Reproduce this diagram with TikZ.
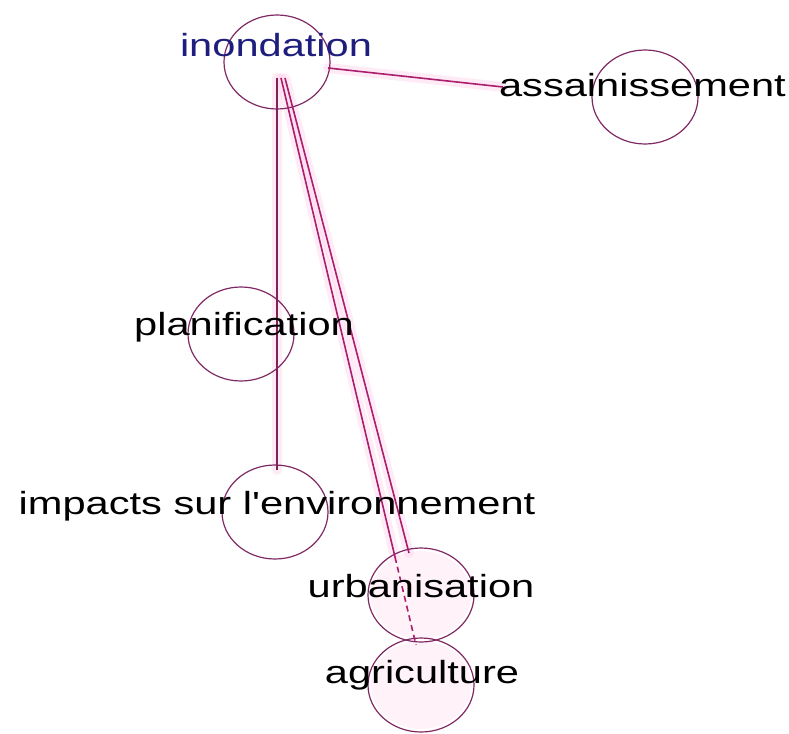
\documentclass[tikz,border=0pt]{standalone}
\usepackage{fontspec}
\newfontfamily\lbl[FakeStretch=1.3]{Liberation Sans}
\usetikzlibrary{shapes.geometric}
\definecolor{ringcol}{RGB}{128,40,100}
\definecolor{edgecol}{RGB}{170,30,110}
\definecolor{vertcol}{RGB}{125,35,85}
\definecolor{glowcol}{RGB}{255,205,232}
\definecolor{navy}{RGB}{30,30,125}
\tikzset{
  ring/.style={ellipse, draw=ringcol, line width=1.2pt, minimum width=106pt, minimum height=94pt, inner sep=0pt},
  lab/.style={anchor=base, inner sep=0pt, font=\lbl\fontsize{32}{38}\selectfont, text=black},
  edge/.style={draw=edgecol, line width=1.6pt},
  glow/.style={draw=glowcol, line width=10pt, opacity=0.4, line cap=round}
}
\begin{document}
\begin{tikzpicture}[x=1pt,y=-1pt]
\useasboundingbox (0,0) rectangle (789,733);
% hub and end points
\coordinate (hubA) at (281,78);
\coordinate (hubB) at (285,78);
\coordinate (hubV) at (277,78);
\coordinate (inoR) at (328,68);
\coordinate (assL) at (503,87);
\coordinate (impT) at (277,470);
\coordinate (urbT) at (395,557);
\coordinate (urbB) at (409,553);
\coordinate (agrT) at (416,645);
% glow
\path[glow] (inoR) -- (assL);
\path[glow] (hubV) -- (impT);
\path[glow] (hubA) -- (urbT);
\path[glow] (hubB) -- (urbB);
\fill[glowcol, opacity=0.25] (421,595) ellipse [x radius=50pt, y radius=44pt];
\fill[glowcol, opacity=0.25] (421,685) ellipse [x radius=50pt, y radius=44pt];
% circles
\node[ring] (ino) at (277,62) {};
\node[ring] (ass) at (645,97) {};
\node[ring] (pla) at (241,334) {};
\node[ring] (imp) at (275,512) {};
\node[ring] (urb) at (421,595) {};
\node[ring] (agr) at (421,685) {};
% edges
\draw[edge] (inoR) -- (assL);
\draw[draw=vertcol, line width=1.6pt] (hubV) -- (impT);
\draw[edge] (hubA) -- (urbT);
\draw[edge, dash pattern=on 6pt off 4pt] (urbT) -- (agrT);
\draw[edge] (hubB) -- (urbB);
% labels
\node[lab, text=navy] (tino) at (276,57) {inondation};
\node[lab, anchor=base east] (tass) at (786,97) {assainissement};
\node[lab] (tpla) at (244,335) {planification};
\node[lab] (timp) at (277,514) {impacts sur l'environnement};
\node[lab] (turb) at (421,597) {urbanisation};
\node[lab] (tagr) at (422,683) {agriculture};
\end{tikzpicture}
\end{document}
